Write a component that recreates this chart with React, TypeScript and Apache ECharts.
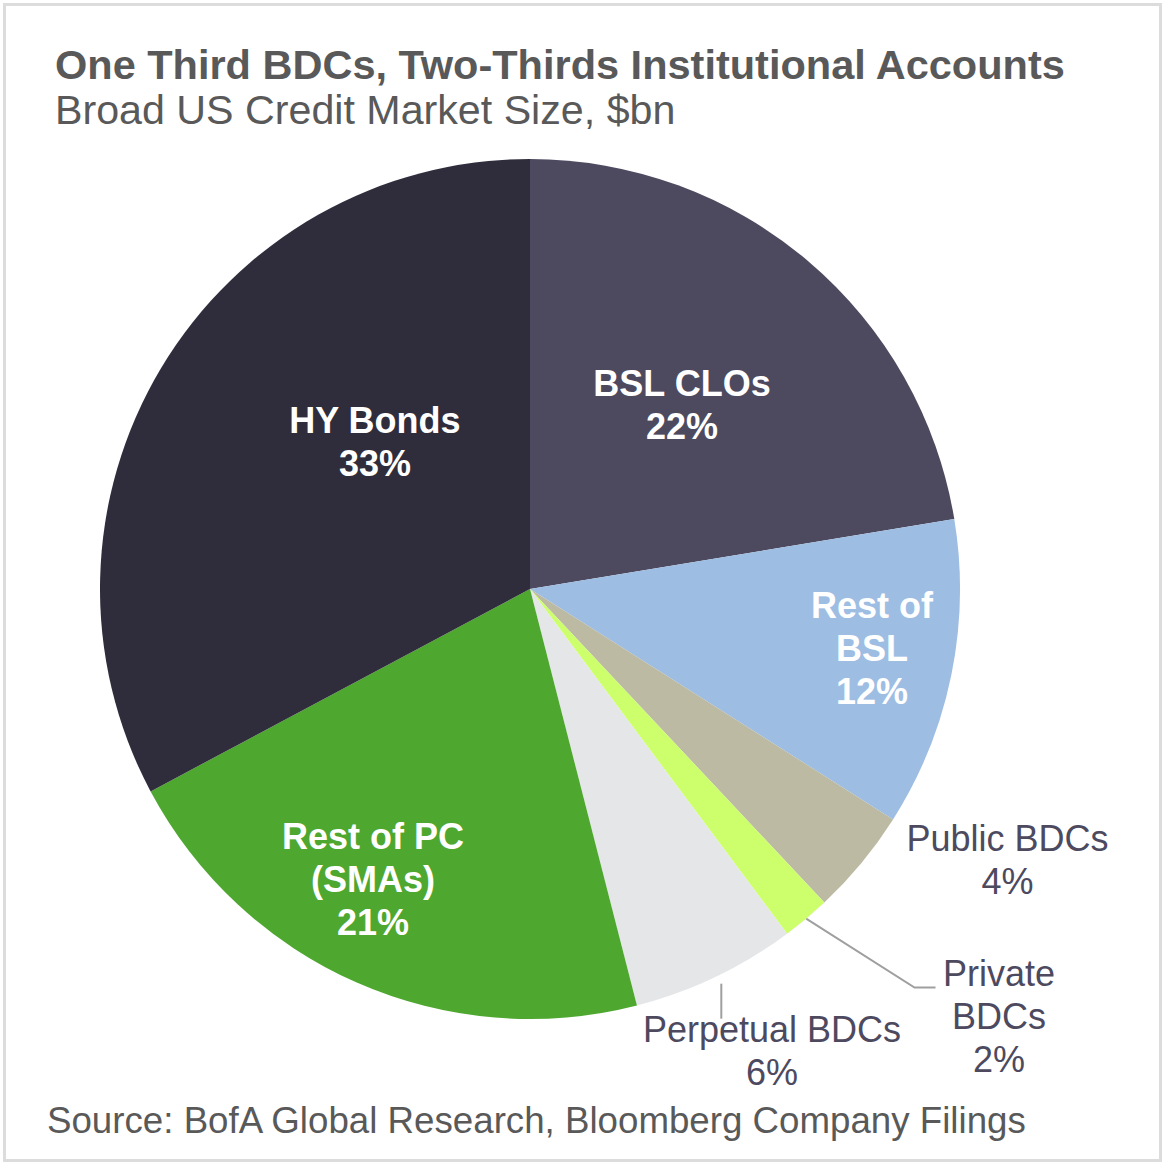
import * as echarts from "echarts";
import { useEffect, useRef } from "react";

// slices, clockwise from 12 o'clock
const categories = [
    "BSL CLOs",
    "Rest of\nBSL",
    "Public BDCs",
    "Private\nBDCs",
    "Perpetual BDCs",
    "Rest of PC\n(SMAs)",
    "HY Bonds",
];
// share of the broad US credit market, %
const shares = [22.4, 11.6, 4.0, 1.8, 6.2, 21.2, 32.8];

const colors = ["#4d4a60", "#9dbde3", "#bcbaa3", "#ccff6b", "#e5e6e8", "#4ea72f", "#2f2d3b"];
const insideLabel = [true, true, false, false, false, true, true];

// label anchor: [angle offset from slice middle (deg), distance in radii]
const labelSpots = [
    [-0.76, 0.555],
    [-1.73, 0.807],
    [-10.02, 1.277],
    [-7.72, 1.475],
    [-2.09, 1.213],
    [4.67, 0.767],
    [12.52, 0.497],
];
// leader lines: start radius, knee angle offset, knee radius, tail dx, tail dy
const leaders: Record<number, number[]> = {
    3: [1.0, -4.01, 1.288, 21, 0],
    4: [1.02, -0.3, 1.02, 0, 35],
};

const CX = 530;
const CY = 589;
const R = 430;
const FONT = '"Liberation Sans", Arial, Helvetica, sans-serif';

const total = shares.reduce((a, b) => a + b, 0);
const mids: number[] = [];
{
    let acc = 0;
    shares.forEach((v) => {
        mids.push(((acc + v / 2) / total) * 360);
        acc += v;
    });
}

function polar(bearing: number, dist: number): number[] {
    const a = (bearing * Math.PI) / 180;
    return [CX + dist * Math.sin(a), CY - dist * Math.cos(a)];
}

const App: React.FC = () => {
    const node = useRef<HTMLDivElement>(null);

    useEffect(() => {
        const chart = echarts.init(node.current, null, { renderer: "svg" });
        const option: echarts.EChartsOption = {
            animation: false,
            backgroundColor: "#ffffff",
            graphic: [
                {
                    type: "rect",
                    shape: { x: 4.5, y: 4.5, width: 1156, height: 1156 },
                    style: { fill: "none", stroke: "#dcdcdc", lineWidth: 3 },
                },
                {
                    type: "text",
                    x: 55,
                    y: 64,
                    style: {
                        text: "One Third BDCs, Two-Thirds Institutional Accounts",
                        fill: "#595959",
                        fontFamily: FONT,
                        fontSize: 41.5,
                        fontWeight: "bold",
                        verticalAlign: "middle",
                    },
                },
                {
                    type: "text",
                    x: 55,
                    y: 110,
                    style: {
                        text: "Broad US Credit Market Size, $bn",
                        fill: "#595959",
                        fontFamily: FONT,
                        fontSize: 41.2,
                        verticalAlign: "middle",
                    },
                },
                {
                    type: "text",
                    x: 47,
                    y: 1120,
                    style: {
                        text: "Source: BofA Global Research, Bloomberg Company Filings",
                        fill: "#595959",
                        fontFamily: FONT,
                        fontSize: 36.7,
                        verticalAlign: "middle",
                    },
                },
            ],
            series: [
                {
                    type: "pie",
                    center: [CX, CY],
                    radius: R,
                    startAngle: 90,
                    clockwise: true,
                    avoidLabelOverlap: false,
                    silent: true,
                    itemStyle: { borderWidth: 0 },
                    emphasis: { disabled: true },
                    label: {
                        show: true,
                        position: "inside",
                        fontFamily: FONT,
                        fontSize: 36,
                        lineHeight: 43,
                        formatter: (p: any) => `${p.name}\n${Math.round((p.value / total) * 100)}%`,
                    },
                    labelLine: { show: false },
                    labelLayout: (p: any) => {
                        const i = p.dataIndex;
                        const [da, rf] = labelSpots[i];
                        const [x, y] = polar(mids[i] + da, rf * R);
                        const out: any = { x, y, align: "center", verticalAlign: "middle" };
                        const l = leaders[i];
                        if (l) {
                            const start = polar(mids[i] + (i === 4 ? l[1] : 0), l[0] * R);
                            const knee = polar(mids[i] + l[1], l[2] * R);
                            out.labelLinePoints = [start, knee, [knee[0] + l[3], knee[1] + l[4]]];
                        }
                        return out;
                    },
                    data: categories.map((name, i) => ({
                        name,
                        value: shares[i],
                        itemStyle: { color: colors[i] },
                        label: insideLabel[i]
                            ? { position: "inside", color: "#ffffff", fontWeight: "bold" }
                            : { position: "outside", color: "#4d4a60", fontWeight: "normal" },
                        labelLine: {
                            show: leaders[i] != null,
                            lineStyle: { color: "#9f9f9f", width: 2 },
                        },
                    })),
                },
            ],
        };
        chart.setOption(option);
        return () => {
            chart.dispose();
        };
    }, []);

    return (
        <div
            ref={node}
            style={{ position: "absolute", left: 0, top: 0, width: 1168, height: 1168, background: "#fff" }}
        ></div>
    );
};

export default App;
